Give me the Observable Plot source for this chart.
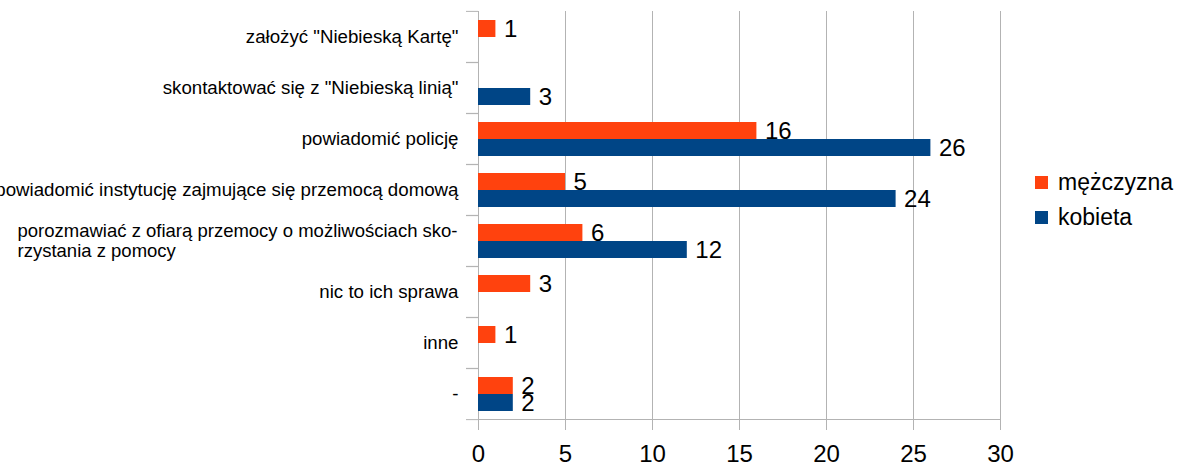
<!DOCTYPE html>
<html><head><meta charset="utf-8">
<script src="https://cdn.jsdelivr.net/npm/d3@7"></script>
<script src="https://cdn.jsdelivr.net/npm/@observablehq/plot@0.6"></script>
<style>
body{margin:0;background:#fff;font-family:"Liberation Sans",Arial,sans-serif;}
#wrap{position:relative;width:1199px;height:466px;overflow:hidden;}
.legend{position:absolute;left:1035px;top:165px;font-size:23px;color:#000;}
.legend div{display:flex;align-items:center;height:35px;}
.legend span.sw{display:inline-block;width:13px;height:13px;margin-right:10px;}
</style></head><body><div id="wrap"></div>
<script>
const categories = [
  'założyć "Niebieską Kartę"',
  'skontaktować się z "Niebieską linią"',
  'powiadomić policję',
  'powiadomić instytucję zajmujące się przemocą domową',
  'porozmawiać z ofiarą przemocy o możliwościach skorzystania z pomocy',
  'nic to ich sprawa',
  'inne',
  '-'
];
const categoryLabels = [
  'założyć "Niebieską Kartę"',
  'skontaktować się z "Niebieską linią"',
  'powiadomić policję',
  'powiadomić instytucję zajmujące się przemocą domową',
  'porozmawiać z ofiarą przemocy o możliwościach sko-\nrzystania z pomocy',
  'nic to ich sprawa',
  'inne',
  '-'
];
const seriesNames = ["mężczyzna", "kobieta"];
const menValues   = [1, 0, 16, 5, 6, 3, 1, 2];
const womenValues = [0, 3, 26, 24, 12, 0, 0, 2];
const xTicks = [0, 5, 10, 15, 20, 25, 30];
const colors = ["#ff420e", "#004586"];

const rows = [];
categories.forEach((c, i) => {
  rows.push({cat: c, series: seriesNames[0], value: menValues[i]});
  rows.push({cat: c, series: seriesNames[1], value: womenValues[i]});
});
const bars = rows.filter(d => d.value > 0);
const labelRows = categories.map((c, i) => ({cat: c, label: categoryLabels[i], multi: categoryLabels[i].includes("\n")}));

const grid = "#b3b3b3";
const half = 410 / categories.length / 2;
const chart = Plot.plot({
  width: 1199, height: 466,
  marginLeft: 478, marginRight: 199, marginTop: 10, marginBottom: 46,
  style: {fontFamily: '"Liberation Sans", Arial, sans-serif', background: "#fff"},
  x: {domain: [0, 30], ticks: xTicks, label: null},
  fy: {domain: categories, padding: 0, label: null, axis: null},
  y: {domain: seriesNames, paddingInner: 0, paddingOuter: 0.5, axis: null},
  color: {domain: seriesNames, range: colors},
  marks: [
    Plot.gridX(xTicks, {stroke: grid, strokeOpacity: 1}),
    Plot.barX(bars, {fy: "cat", y: "series", x: "value", fill: "series"}),
    Plot.text(bars, {fy: "cat", y: "series", x: "value", text: d => String(d.value), textAnchor: "start", dx: 8, fontSize: 24, fill: "#000"}),
    Plot.text(labelRows.filter(d => !d.multi), {fy: "cat", frameAnchor: "left", text: "label", textAnchor: "end", dx: -20, fontSize: 18.7, fill: "#000"}),
    Plot.text(labelRows.filter(d => d.multi), {fy: "cat", frameAnchor: "left", text: "label", textAnchor: "start", dx: -461, fontSize: 18.5, lineHeight: 1.08, fill: "#000"}),
    Plot.axisX({ticks: xTicks, tickSize: 11, tickPadding: 14, fontSize: 24, stroke: grid, fill: "#000", label: null}),
    Plot.frame({anchor: "bottom", facetAnchor: "bottom", stroke: grid}),
    Plot.axisFy({anchor: "left", tickSize: 12, tickFormat: () => "", dy: -half, stroke: grid, label: null}),
    Plot.axisFy({anchor: "left", tickSize: 12, tickFormat: () => "", dy: half, stroke: grid, label: null})
  ]
});
const wrap = document.getElementById("wrap");
wrap.appendChild(chart);
const legend = document.createElement("div");
legend.className = "legend";
seriesNames.forEach((s, i) => {
  const row = document.createElement("div");
  const sw = document.createElement("span");
  sw.className = "sw"; sw.style.background = colors[i];
  row.appendChild(sw);
  row.appendChild(document.createTextNode(s));
  legend.appendChild(row);
});
wrap.appendChild(legend);
</script></body></html>
